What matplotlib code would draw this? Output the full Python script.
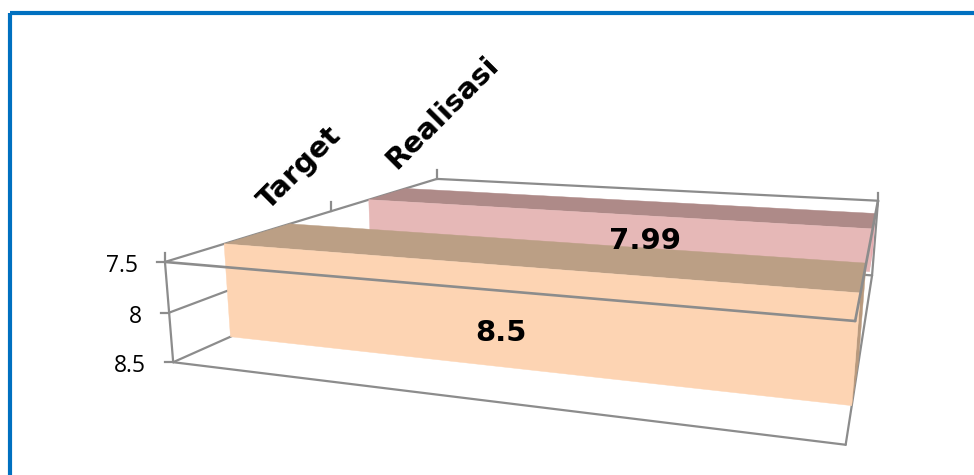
import numpy as np
import matplotlib
matplotlib.use("Agg")
import matplotlib.pyplot as plt
from matplotlib.patches import Polygon, Rectangle

# Chart content
categories = ["Target", "Realisasi"]
values = [8.5, 7.99]
value_labels = ["8.5", "7.99"]
value_ticks = [7.5, 8.0, 8.5]
value_tick_labels = ["7.5", "8", "8.5"]
axis_min, axis_max = 7.5, 8.5

# Depth slots of each bar on the category axis, 0 = front, 1 = back
depth_slots = [(0.15, 0.35), (0.655, 0.83)]
front_colors = ["#FDD4B3", "#E6B8B7"]
top_colors = ["#BB9F85", "#AE8A88"]
side_colors = ["#B99A7E", "#E6A9AE"]
line_color = "#8C8C8C"

# Camera: the box corners on screen define a projective map
box_units = np.array([(0, 0, 0), (1, 0, 0), (0, 1, 0), (1, 1, 0),
                      (0, 0, 1), (1, 0, 1), (1, 1, 1)], float)
box_screen = np.array([(165, 262), (855, 322), (437, 179), (878, 200),
                       (173, 362), (846, 444), (872, 276)], float)


def solve_camera(units, screen):
    rows, rhs = [], []
    for (a, b, c), (x, y) in zip(units, screen):
        rows.append([a, b, c, 1, 0, 0, 0, 0, -x * a, -x * b, -x * c])
        rhs.append(x)
        rows.append([0, 0, 0, 0, a, b, c, 1, -y * a, -y * b, -y * c])
        rhs.append(y)
    m = np.linalg.lstsq(np.array(rows), np.array(rhs), rcond=None)[0]
    return np.append(m, 1.0).reshape(3, 4)


camera = solve_camera(box_units, box_screen)


def project(u, v, w):
    p = camera @ np.array([u, v, w, 1.0])
    return p[0] / p[2], p[1] / p[2]


def depth_of(value):
    return (value - axis_min) / (axis_max - axis_min)


fig = plt.figure(figsize=(9.74, 4.75), dpi=100, facecolor="white")
ax = fig.add_axes([0, 0, 1, 1])
ax.set_xlim(0, 974)
ax.set_ylim(475, 0)
ax.axis("off")


def segment(start, end, lw=1.6, z=2):
    ax.plot(*zip(project(*start), project(*end)), color=line_color, lw=lw,
            zorder=z, solid_capstyle="round")


def face(points, color, z):
    ax.add_patch(Polygon([project(*p) for p in points], closed=True, fc=color,
                         ec=color, lw=0.3, zorder=z))


# Outer frame
ax.add_patch(Rectangle((9.5, 13), 1000, 600, fill=False, ec="#0070C0", lw=3, zorder=1))

# Back and floor lines behind the bars
segment((0, 1, 0), (1, 1, 0))
segment((0, 0, 1), (0, 1, 1))
segment((1, 0, 1), (1, 1, 1))
segment((1, 1, 1), (0.9, 1, 1))
segment((0, 0, 0), (0, 1, 0))
segment((1, 1, 0), (1, 1, 1))
segment((0, 0, 0.5), (0, 0.3, 0.5))
segment((0, 0, 1), (1, 0, 1))
segment((0, 0, 0), (0, 0, 1))

# Bars, back one first
for i in (1, 0):
    v0, v1 = depth_slots[i]
    w = depth_of(values[i])
    z = 3 + (1 - i) * 2
    face([(1, v0, 0), (1, v1, 0), (1, v1, w), (1, v0, w)], side_colors[i], z)
    face([(0, v0, 0), (1, v0, 0), (1, v1, 0), (0, v1, 0)], top_colors[i], z + 0.1)
    face([(0, v0, 0), (1, v0, 0), (1, v0, w), (0, v0, w)], front_colors[i], z + 0.2)

# Front lines pass over the bars
segment((0, 0, 0), (1, 0, 0), lw=1.9, z=8)
segment((1, 0, 0), (1, 1, 0), lw=1.9, z=8)

# Tick stubs on the value axis and its labels
for tick, text in zip(value_ticks, value_tick_labels):
    x, y = project(0, 0, depth_of(tick))
    ax.plot([x - 8, x], [y, y], color=line_color, lw=1.6, zorder=2)
    ax.text(x - 27, y + 4, text, ha="right", va="center", fontsize=16.5,
            family="Open Sans", color="black", zorder=9)

# Tick stubs above the box edges
for v in (0, 0.5, 1):
    x, y = project(0, v, 0)
    ax.plot([x, x], [y - 9, y], color=line_color, lw=1.6, zorder=2)
x, y = project(1, 1, 0)
ax.plot([x, x], [y - 8, y], color=line_color, lw=1.6, zorder=2)

# Category names
for name, (x, y) in zip(categories, [(300, 168), (443, 113)]):
    ax.text(x, y, name, rotation=45, rotation_mode="anchor", ha="center", va="center",
            fontsize=21, fontweight="bold", family="DejaVu Sans", color="black", zorder=9)

# Value labels on the front faces
for label, (x, y) in zip(value_labels, [(501, 333), (645, 241)]):
    ax.text(x, y, label, ha="center", va="center", fontsize=21, fontweight="bold",
            family="DejaVu Sans", color="black", zorder=9)

fig.savefig("out.png", dpi=100)
